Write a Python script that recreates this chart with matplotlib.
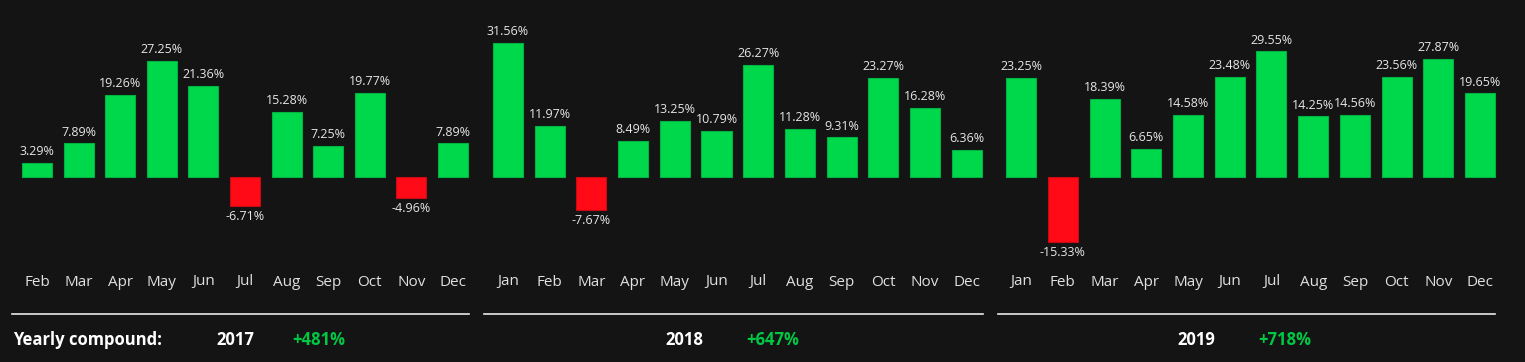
import matplotlib
matplotlib.use("Agg")
import matplotlib.pyplot as plt
from matplotlib.lines import Line2D

months_2017 = ["Feb", "Mar", "Apr", "May", "Jun", "Jul", "Aug", "Sep", "Oct", "Nov", "Dec"]
values_2017 = [3.29, 7.89, 19.26, 27.25, 21.36, -6.71, 15.28, 7.25, 19.77, -4.96, 7.89]
months_2018 = ["Jan", "Feb", "Mar", "Apr", "May", "Jun", "Jul", "Aug", "Sep", "Oct", "Nov", "Dec"]
values_2018 = [31.56, 11.97, -7.67, 8.49, 13.25, 10.79, 26.27, 11.28, 9.31, 23.27, 16.28, 6.36]
months_2019 = ["Jan", "Feb", "Mar", "Apr", "May", "Jun", "Jul", "Aug", "Sep", "Oct", "Nov", "Dec"]
values_2019 = [23.25, -15.33, 18.39, 6.65, 14.58, 23.48, 29.55, 14.25, 14.56, 23.56, 27.87, 19.65]
years = ["2017", "2018", "2019"]
compound = ["+481%", "+647%", "+718%"]

BG = "#141414"
GREEN = "#00d84c"
RED = "#ff0a16"
TEXT_GREEN = "#00c843"

W, H = 1525, 362
fig = plt.figure(figsize=(W / 100, H / 100), dpi=100, facecolor=BG)
FONT = ["Open Sans", "DejaVu Sans"]

# panel pixel extents (left, right)
panels = [
    (months_2017, values_2017, 16.2, 473.8),
    (months_2018, values_2018, 487.0, 987.7),
    (months_2019, values_2019, 1000.2, 1501.0),
]
top_px, bot_px, zero_px, ppu = 20, 262, 177, 4.25
ymax = (zero_px - top_px) / ppu
ymin = -(bot_px - zero_px) / ppu

for months, vals, lpx, rpx in panels:
    ax = fig.add_axes([lpx / W, 1 - bot_px / H, (rpx - lpx) / W, (bot_px - top_px) / H])
    ax.set_facecolor(BG)
    x = list(range(len(months)))
    colors = [GREEN if v >= 0 else RED for v in vals]
    edges = ["#00b23f" if v >= 0 else "#c80a12" for v in vals]
    ax.bar(x, vals, width=0.72, color=colors, edgecolor=edges, linewidth=0.8)
    ax.set_xlim(-0.5, len(months) - 0.5)
    ax.set_ylim(ymin, ymax)
    for xi, v in zip(x, vals):
        if v >= 0:
            ax.annotate(f"{v:.2f}%", (xi, v), xytext=(0, 3.5), textcoords="offset points",
                        ha="center", va="bottom", color="#e6e6e6", fontsize=9, family=FONT)
        else:
            ax.annotate(f"{v:.2f}%", (xi, v), xytext=(0, -3), textcoords="offset points",
                        ha="center", va="top", color="#e6e6e6", fontsize=9, family=FONT)
    ax.set_xticks(x)
    ax.set_xticklabels(months, color="#e0e0e0", fontsize=11, family=FONT)
    ax.tick_params(axis="x", length=0, pad=9)
    ax.set_yticks([])
    for s in ax.spines.values():
        s.set_visible(False)

# separator lines
for l, r in [(12, 469), (484, 983), (998, 1495)]:
    fig.add_artist(Line2D([l / W, r / W], [1 - 314 / H, 1 - 314 / H], color="#e8e8e8", lw=1.2))

ty = 1 - 340 / H
fig.text(13 / W, ty, "Yearly compound:", color="white", fontsize=12, fontweight="bold",
         family=FONT, va="center", ha="left")
year_x = [235, 684, 1196]
comp_x = [319, 773, 1285]
for y, c, yx, cx in zip(years, compound, year_x, comp_x):
    fig.text(yx / W, ty, y, color="white", fontsize=12, fontweight="bold", family=FONT,
             va="center", ha="center")
    fig.text(cx / W, ty, c, color=TEXT_GREEN, fontsize=12, fontweight="bold", family=FONT,
             va="center", ha="center")

fig.savefig("out.png", dpi=100, facecolor=BG)
